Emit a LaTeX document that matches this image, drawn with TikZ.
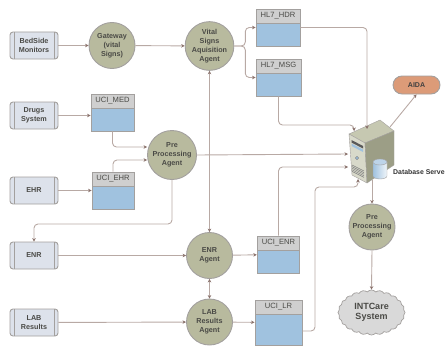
\documentclass[tikz,border=0pt]{standalone}
\usepackage{fontspec}
\setmainfont{Liberation Sans}
\usepackage{xcolor}
\usetikzlibrary{shapes.symbols,arrows.meta}
\definecolor{linecol}{HTML}{B8A9A4}
\definecolor{tipcol}{HTML}{8A726C}
\definecolor{olive}{HTML}{B8BA9E}
\definecolor{srcfill}{HTML}{DDE2EB}
\definecolor{tblblue}{HTML}{A0C2DF}
\definecolor{tblhead}{HTML}{CFCFCF}
\definecolor{edgecol}{HTML}{A3A09E}
\definecolor{txtcol}{HTML}{4A4A46}
\definecolor{aidafill}{HTML}{DC9B78}

\tikzset{
    conn/.style={draw=linecol,line width=0.9pt,rounded corners=4pt,-{Stealth[length=3.5pt,width=3.5pt,color=tipcol]}},
    conntwo/.style={conn,{Stealth[length=3.5pt,width=3.5pt,color=tipcol]}-{Stealth[length=3.5pt,width=3.5pt,color=tipcol]}},
    source/.style={draw=edgecol,fill=srcfill,line width=0.9pt,rounded corners=3pt,minimum width=48pt,minimum height=27pt,
        inner sep=0pt,align=center,font=\fontsize{7.2}{9}\selectfont\bfseries,text=txtcol,
        path picture={
            \draw[edgecol,line width=0.7pt] ([xshift=4pt]path picture bounding box.north west) -- ([xshift=4pt]path picture bounding box.south west);
            \draw[edgecol,line width=0.7pt] ([xshift=-4pt]path picture bounding box.north east) -- ([xshift=-4pt]path picture bounding box.south east);
        }},
    agent/.style={circle,draw=edgecol,fill=olive,line width=0.9pt,minimum size=46pt,inner sep=0pt,align=center,
        font=\fontsize{7.2}{9}\selectfont\bfseries,text=txtcol},
    tblbody/.style={draw=edgecol,fill=tblblue,line width=0.9pt,inner sep=0pt},
    tbltitle/.style={draw=edgecol,fill=tblhead,line width=0.9pt,inner sep=0pt,anchor=north,minimum height=14pt,
        font=\fontsize{7.6}{9}\selectfont,text=txtcol}
}

\begin{document}
\begin{tikzpicture}[x=1pt,y=-1pt]
        \useasboundingbox (0,0) rectangle (446,345);

        % sources on the left
        \foreach \n/\t/\y in {bedside/{BedSide\\Monitors}/45.5,drugs/{Drugs\\System}/115.5,ehr/EHR/190.5,enr/ENR/255.5,lab/{LAB\\Results}/322.5} {
            \node[source] (\n) at (34,\y) {\t};
        }

        % agents
        \node[agent] (gateway) at (112,45.5) {Gateway\\(vital\\Signs)};
        \node[agent] (vital) at (209.5,46) {Vital\\Signs\\Aquisition\\Agent};
        \node[agent,minimum size=49pt] (pre) at (172,155) {Pre\\Processing\\Agent};
        \node[agent] (enragent) at (209.5,255.5) {ENR\\Agent};
        \node[agent] (labagent) at (209.5,322) {LAB\\Results\\Agent};
        \node[agent] (postpre) at (372,227) {Pre\\Processing\\Agent};

        % tables
        \foreach \n/\t/\x/\y/\w/\h in {hdr/HL7\_HDR/278/27.5/44/37,msg/HL7\_MSG/278.5/77.5/45/37,med/UCI\_MED/112.5/112.5/43/37,uciehr/UCI\_EHR/113/190.5/42/37,ucienr/UCI\_ENR/278.5/254.5/42.5/37,lr/UCI\_LR/278.5/322.5/47/45} {
            \node[tblbody,minimum width=\w pt,minimum height=\h pt] (\n) at (\x,\y) {};
            \node[tbltitle,minimum width=\w pt] (\n-title) at (\n.north) {\t};
        }

        % the others
        \node[draw=edgecol,fill=aidafill,line width=0.9pt,rounded corners=9pt,minimum width=47pt,minimum height=18pt,
            inner sep=0pt,font=\fontsize{7}{8}\selectfont\bfseries,text=black!75] (aida) at (416.5,85) {AIDA};
        \node[cloud,cloud puffs=24,cloud puff arc=100,draw=edgecol,fill=black!15,aspect=1.45,line width=0.7pt,minimum width=67pt,minimum height=45pt,
            inner sep=0pt,align=center,font=\fontsize{9}{10.5}\selectfont\bfseries,text=txtcol] (intcare) at (371.5,312.5) {INTCare\\System};

        % server, drawn by hand
        \filldraw[draw=edgecol,fill=olive!80!white] (349,134) -- (380,120) -- (394,131) -- (365,143) -- cycle;
        \filldraw[draw=edgecol,fill=olive!55!white] (349,134) -- (365,143) -- (367,183) -- (352,175) -- cycle;
        \filldraw[draw=edgecol,fill=olive!85!black] (365,143) -- (394,131) -- (394,165) -- (367,183) -- cycle;
        \fill[black!65] (351.5,140) -- (363,146) -- (363,148.5) -- (351.5,142.5) -- cycle;
        \fill[tblblue] (351.5,143.5) -- (363,149.5) -- (363,152) -- (351.5,146) -- cycle;
        \filldraw[draw=black!55,fill=tblblue] (357,158) circle (1.6pt);
        \foreach \i in {0,...,4} {
            \draw[black!50,line width=0.5pt] (352,{165+1.6*\i}) -- (364,{171+1.6*\i});
        }
        \draw[draw=edgecol,left color=tblblue,right color=white!85!tblblue] (373,162) -- (373,176) arc[start angle=180,end angle=360,x radius=7pt,y radius=3pt] -- (387,162) -- cycle;
        \filldraw[draw=edgecol,fill=tblblue!70!white] (380,162) ellipse (7pt and 3pt);
        \node[anchor=west,inner sep=0pt,font=\fontsize{6.9}{8}\selectfont\bfseries,text=black!80] (dbname) at (393,172) {Database Serve};

        % ports of the server
        \coordinate (srvhdr) at (367,129);
        \coordinate (srvmsg) at (354,131);
        \coordinate (srvpre) at (348,154);
        \coordinate (srvenr) at (348,167);
        \coordinate (srvlr) at (358,179);
        \coordinate (srvaida) at (390,127);
        \coordinate (srvdown) at (372,180);

        % connectors
        \draw[conn] (bedside) -- (gateway);
        \draw[conn] (gateway) -- (vital);
        \draw[conn] (drugs.east) -- (drugs.east -| med.west);
        \draw[conn] (ehr.east) -- (ehr.east -| uciehr.west);
        \draw[conn] (med.south) |- ([yshift=8pt]pre.west);
        \draw[conn] (uciehr.north) |- ([yshift=-5pt]pre.west);
        \draw[conn] (vital.east) -- ++(11,0) |- (hdr.west);
        \draw[conn] (vital.east) -- ++(11,0) |- (msg.west);
        \draw[conn] (hdr.east) -| (srvhdr);
        \draw[conn] (msg.south) |- (354,125) -- (srvmsg);
        \draw[conn] (pre.east) -- (srvpre);
        \draw[conn] (ucienr.north) |- (srvenr);
        \draw[conn] ([yshift=-8.5pt]lr.east) -| (315,187) -| (srvlr);
        \draw[conntwo] (vital.south) -- (enragent.north);
        \draw[conntwo] (enragent.south) -- (labagent.north);
        \draw[conn] (pre.south) |- (34,224) -- (enr.north);
        \draw[conn] (enr) -- (enragent);
        \draw[conn] (lab) -- (labagent);
        \draw[conn] (enragent) -- (ucienr);
        \draw[conn] (labagent) -- (lr);
        \draw[conn] (srvaida) -- (aida.south);
        \draw[conn] (srvdown) -- (postpre.north);
        \draw[conn] (postpre.south) -- (intcare.north);
    \end{tikzpicture}
\end{document}
